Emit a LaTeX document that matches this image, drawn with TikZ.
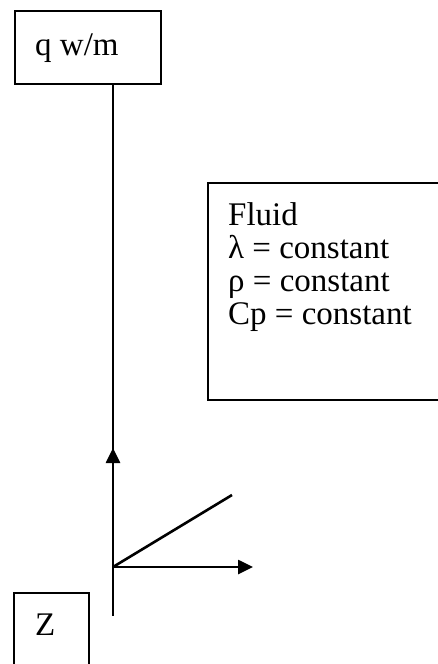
\documentclass[tikz,border=0pt]{standalone}
\usepackage{fontspec}
\setmainfont{Liberation Serif}
\usetikzlibrary{arrows.meta}

\begin{document}
\begin{tikzpicture}[x=1pt, y=-1pt, >={Triangle[length=15pt, width=14pt]},
    box/.style={draw, line width=2pt, inner sep=0pt},
    label/.style={inner sep=0pt, font=\fontsize{33}{33}\selectfont},
    axis/.style={line width=2.6pt}]
  \useasboundingbox (0,0) rectangle (438,664);
  \clip (0,0) rectangle (438,664);
  % boxes
  \node[box, minimum width=146pt, minimum height=73pt, anchor=north west] (load) at (14,10) {};
  \node[label, anchor=base west] (loadtxt) at (35,55) {q w/m};
  \node[box, minimum width=260pt, minimum height=217pt, anchor=north west] (fluidbox) at (207,182) {};
  \node[label, anchor=north west, align=left] (fluid) at (228,202)
    {Fluid\\λ = constant\\ρ = constant\\Cp = constant};
  \node[box, minimum width=75pt, minimum height=100pt, anchor=north west] (zbox) at (13,592) {};
  \node[label, anchor=base west] (ztxt) at (35,635) {Z};
  % axes
  \coordinate (origin) at (113,567);
  \coordinate (up) at (113,448);
  \coordinate (bottom) at (113,616);
  \coordinate (right) at (253,567);
  \coordinate (slant) at (232,495);
  \draw[axis] (load.south -| origin) -- (bottom);
  \draw[axis, ->] (origin) -- (up);
  \draw[axis, ->] (origin) -- (right);
  \draw[axis] (origin) -- (slant);
\end{tikzpicture}
\end{document}
